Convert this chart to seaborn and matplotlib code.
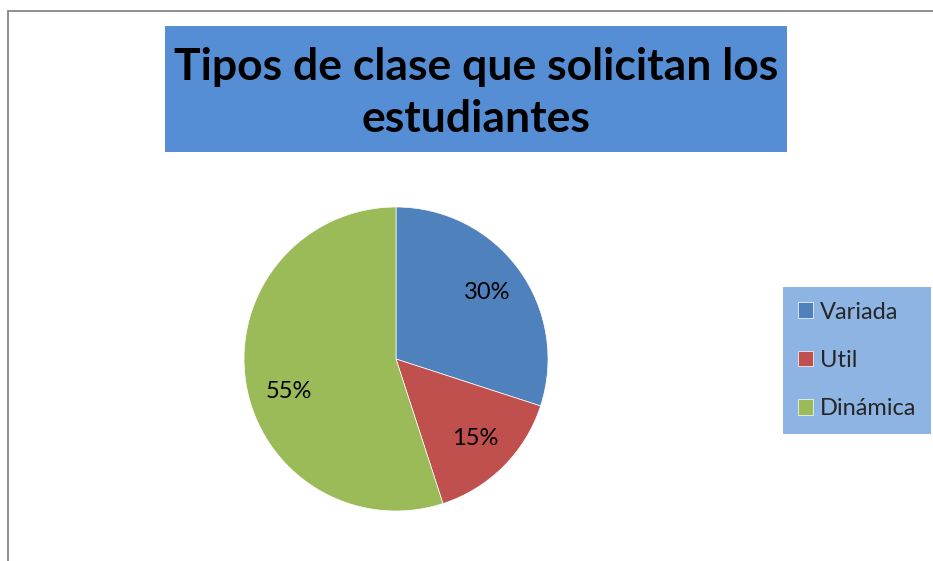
import matplotlib.pyplot as plt
import matplotlib.patches as mpatches
import seaborn as sns
import numpy as np

# datos
categorias = ["Variada", "Util", "Dinámica"]
porcentajes = [30, 15, 55]
colores = ["#4F81BD", "#C0504D", "#9BBB59"]
titulo = "Tipos de clase que solicitan los\nestudiantes"

sns.set_theme(style="white")
plt.rcParams['font.family'] = ['Lato', 'DejaVu Sans']

W, H = 933, 561
fig = plt.figure(figsize=(W / 100, H / 100), dpi=100)
fig.patch.set_facecolor("white")

# marco gris del grafico (sale por derecha y abajo)
fig.patches.append(mpatches.Rectangle((8 / W, -0.2), 1.2, (H - 11) / H + 0.2,
                                      transform=fig.transFigure, fill=False,
                                      edgecolor="#868686", linewidth=1.3))

# caja del titulo
fig.patches.append(mpatches.Rectangle((165 / W, (H - 152) / H), 622 / W, 126 / H,
                                      transform=fig.transFigure, facecolor="#558ED5",
                                      edgecolor="none"))
fig.text(476 / W, (H - 93) / H, titulo, ha="center", va="center", fontsize=32,
         fontweight="bold", color="black", linespacing=1.38)

# pastel
ax = fig.add_axes([244 / W, (H - 511) / H, 304 / W, 304 / H])
wedges, textos, autotextos = ax.pie(porcentajes, colors=colores, startangle=90,
                                    counterclock=False, autopct="%d%%",
                                    pctdistance=0.74,
                                    wedgeprops=dict(edgecolor="white", linewidth=0.5),
                                    textprops=dict(fontsize=17, color="black"))
# excel pone la etiqueta de 55% un poco mas abajo
ang = np.deg2rad(197)
autotextos[2].set_position((0.736 * np.cos(ang), 0.736 * np.sin(ang)))
ax.set_xlim(-1, 1)
ax.set_ylim(-1, 1)
ax.set_aspect("equal")

# leyenda
leg = fig.legend(wedges, categorias, loc="upper left",
                 bbox_to_anchor=(783 / W, (H - 287) / H), frameon=True,
                 fancybox=False, facecolor="#8EB4E3", edgecolor="none",
                 framealpha=1, fontsize=17, handlelength=0.65, handleheight=0.65,
                 handletextpad=0.3, labelspacing=1.15, borderpad=0.62,
                 borderaxespad=0)

fig.savefig("out.png", dpi=100)
